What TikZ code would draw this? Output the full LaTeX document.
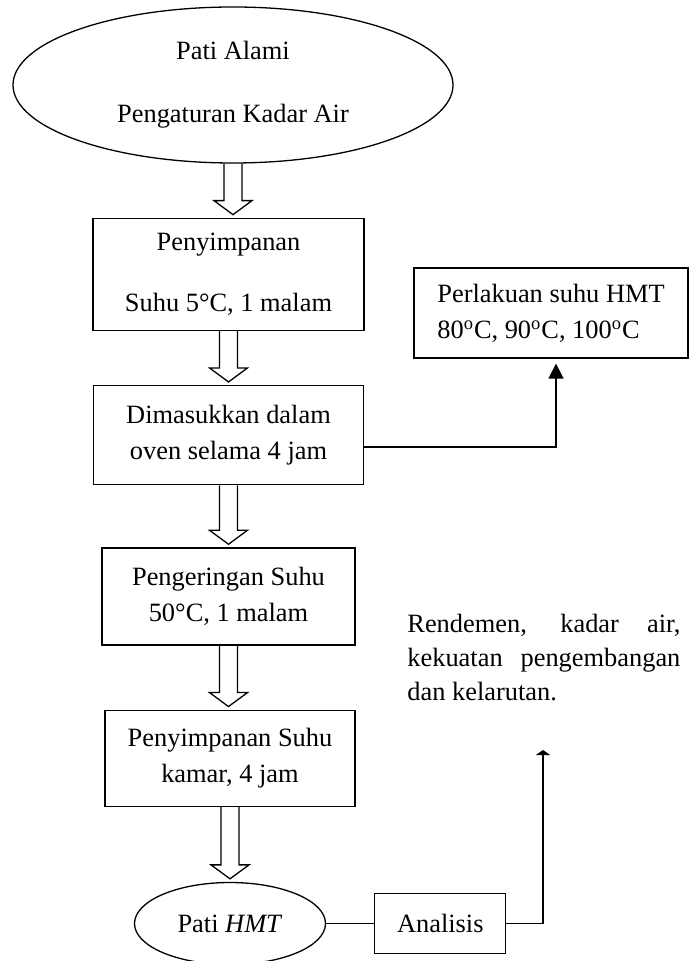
\documentclass[tikz,border=0pt]{standalone}
\usepackage{fontspec}
\setmainfont{Liberation Serif}
\usetikzlibrary{arrows.meta,positioning,shapes.geometric,calc}

% panah blok berongga dari node #1 ke node #2
\newcommand{\panahblok}[2]{%
  \draw[blok] let \p1=(#1.south), \p2=(#2.north) in
    (\x1-4.5pt,\y1) -- (\x1-4.5pt,\y2+8.5pt) -- (\x1-9.5pt,\y2+8.5pt) -- (\x1,\y2+1.5pt)
    -- (\x1+9.5pt,\y2+8.5pt) -- (\x1+4.5pt,\y2+8.5pt) -- (\x1+4.5pt,\y1);
}

\begin{document}
\begin{tikzpicture}[
    x=0.5pt, y=-0.5pt,
    font=\fontsize{13.2pt}{18pt}\selectfont,
    kotak/.style={draw=black, line width=0.65pt, align=center, inner sep=0pt},
    bulat/.style={ellipse, draw=black, line width=0.65pt, align=center, inner sep=0pt},
    blok/.style={draw=black, line width=0.65pt, line join=miter},
    garis/.style={black, line width=0.65pt},
    panah/.style={-{Triangle[width=7.5pt,length=7.5pt]}, black, line width=0.8pt}
]
\useasboundingbox (0,0) rectangle (690,961);

% Tahapan
\node[bulat, minimum width=220pt, minimum height=78pt] (alami) at (233,85)
    {Pati Alami\\[13.5pt]Pengaturan Kadar Air};
\node[kotak, minimum width=135.5pt, minimum height=56pt, below=27pt of alami, xshift=-2.25pt] (simpan)
    {Penyimpanan\\[12.5pt]Suhu 5°C, 1 malam};
\node[kotak, minimum width=135pt, minimum height=49.5pt, below=27pt of simpan] (oven)
    {Dimasukkan dalam\\oven selama 4 jam};
\node[kotak, minimum width=126.5pt, minimum height=48.5pt, below=31pt of oven] (kering)
    {Pengeringan Suhu\\50°C, 1 malam};
\node[kotak, minimum width=125pt, minimum height=48pt, below=32pt of kering, xshift=0.75pt] (kamar)
    {Penyimpanan Suhu\\kamar, 4 jam};
\node[bulat, minimum width=95.5pt, minimum height=41pt, below=37.5pt of kamar] (hmt)
    {Pati \textit{HMT}};
\node[kotak, minimum width=65.5pt, minimum height=30pt, right=24pt of hmt] (analisis) {Analisis};

% Cabang kanan
\node[kotak, align=left, minimum width=137pt, minimum height=45pt] (perlakuan) at (551,313)
    {Perlakuan suhu HMT\\80\textsuperscript{o}C, 90\textsuperscript{o}C, 100\textsuperscript{o}C};
\node[align=justify, text width=136.5pt, inner sep=0pt, anchor=north west,
      font=\fontsize{13.2pt}{17pt}\selectfont] (hasil) at (407,614)
    {Rendemen, kadar air,\linebreak kekuatan pengembangan\linebreak dan kelarutan.};
\coordinate (ujung) at (543,750);

% Panah blok
\panahblok{alami}{simpan}
\panahblok{simpan}{oven}
\panahblok{oven}{kering}
\panahblok{kering}{kamar}
\panahblok{kamar}{hmt}

% Penghubung
\draw[panah, shorten >=2.5pt] ([yshift=-6pt]oven.east) -| ([xshift=2.5pt]perlakuan.south);
\draw[garis] (hmt) -- (analisis);
\draw[panah, -{Triangle[width=7pt,length=2.5pt]}] (analisis.east) -| (ujung);

\end{tikzpicture}
\end{document}
